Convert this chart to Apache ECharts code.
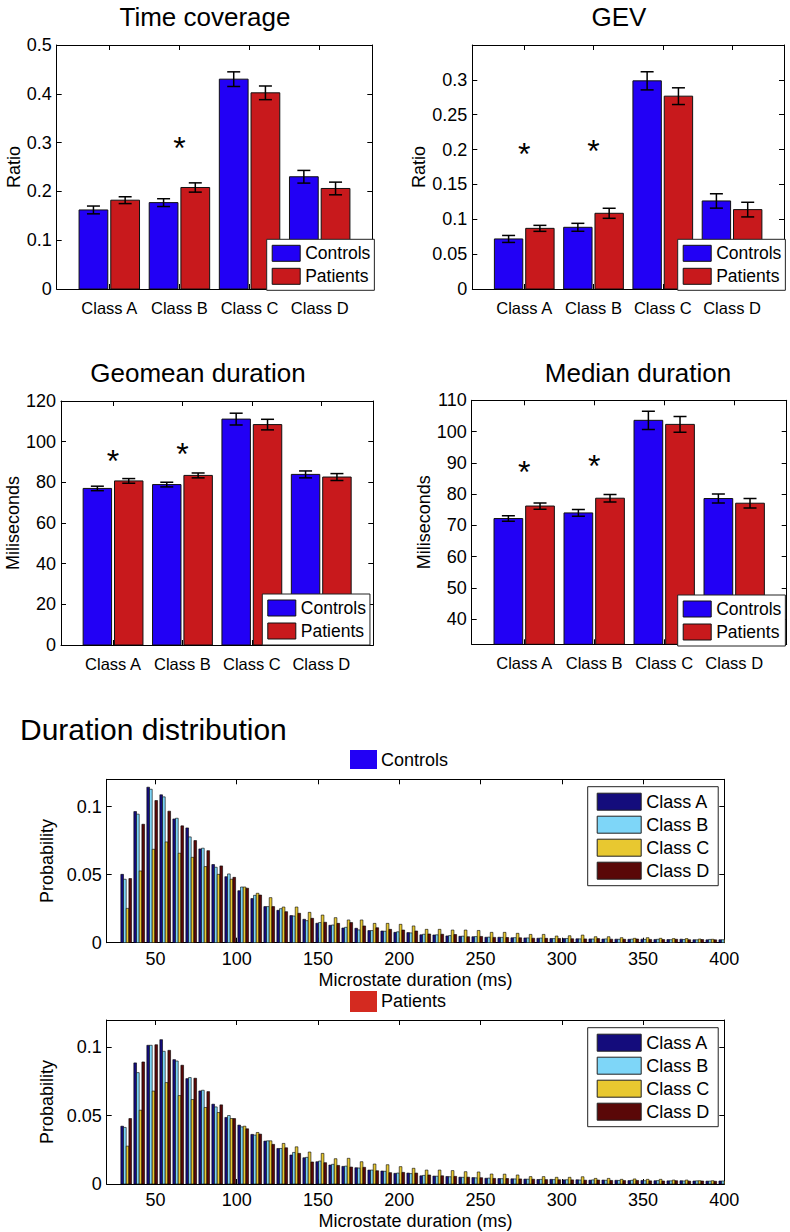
<!DOCTYPE html>
<html><head><meta charset="utf-8">
<script src="https://cdn.jsdelivr.net/npm/echarts@6/dist/echarts.min.js"></script>
<style>html,body{margin:0;padding:0;background:#fff}#c{width:790px;height:1232px}</style>
</head><body><div id="c"></div>
<script>
// ---------------- DATA ----------------
const classes = ['Class A', 'Class B', 'Class C', 'Class D'];
const groups = ['Controls', 'Patients'];
const classTickPos = [1, 2, 3, 4];

// Time coverage
const tcControls = [0.162, 0.177, 0.430, 0.230];
const tcControlsErr = [0.008, 0.008, 0.015, 0.013];
const tcPatients = [0.182, 0.208, 0.402, 0.206];
const tcPatientsErr = [0.007, 0.0095, 0.014, 0.013];
const tcStars = [[2, 0.297]];
const tcTicks = [0, 0.1, 0.2, 0.3, 0.4, 0.5];

// GEV
const gevControls = [0.0718, 0.0885, 0.2986, 0.1263];
const gevControlsErr = [0.005, 0.0057, 0.013, 0.0103];
const gevPatients = [0.087, 0.1086, 0.2766, 0.1139];
const gevPatientsErr = [0.0043, 0.0072, 0.012, 0.0105];
const gevStars = [[1, 0.1995], [2, 0.204]];
const gevTicks = [0, 0.05, 0.1, 0.15, 0.2, 0.25, 0.3];

// Geomean duration
const geoControls = [77.0, 78.9, 111.1, 83.9];
const geoControlsErr = [1.1, 1.15, 2.9, 1.7];
const geoPatients = [80.7, 83.4, 108.4, 82.6];
const geoPatientsErr = [1.15, 1.2, 2.6, 1.7];
const geoStars = [[1, 92.6], [2, 95.9]];
const geoTicks = [0, 20, 40, 60, 80, 100, 120];

// Median duration
const medControls = [72.2, 74.0, 103.6, 78.6];
const medControlsErr = [0.9, 1.07, 2.9, 1.45];
const medPatients = [76.2, 78.7, 102.3, 77.1];
const medPatientsErr = [1.0, 1.2, 2.5, 1.5];
const medStars = [[1, 88.2], [2, 90.3]];
const medTicks = [40, 50, 60, 70, 80, 90, 100, 110];

// Duration distribution
const durationBins = [32, 40, 48, 56, 64, 72, 80, 88, 96, 104, 112, 120, 128, 136, 144, 152, 160, 168, 176, 184, 192, 200, 208, 216, 224, 232, 240, 248, 256, 264, 272, 280, 288, 296, 304, 312, 320, 328, 336, 344, 352, 360, 368, 376, 384, 392, 400];
const durTicks = [50, 100, 150, 200, 250, 300, 350, 400];
const probTicks = [0, 0.05, 0.1];

const ctrlA = [0.0502, 0.0963, 0.1142, 0.1086, 0.0909, 0.0843, 0.0689, 0.0574, 0.0485, 0.0382, 0.0324, 0.0265, 0.0238, 0.0199, 0.0172, 0.0143, 0.0128, 0.0108, 0.0106, 0.0089, 0.0086, 0.0076, 0.0074, 0.0058, 0.0057, 0.0050, 0.0047, 0.0044, 0.0040, 0.0040, 0.0036, 0.0035, 0.0033, 0.0031, 0.0030, 0.0029, 0.0028, 0.0027, 0.0026, 0.0025, 0.0026, 0.0024, 0.0023, 0.0026, 0.0022, 0.0021, 0.0022];
const ctrlB = [0.0466, 0.0944, 0.1127, 0.1071, 0.0914, 0.0777, 0.0694, 0.0554, 0.0505, 0.0409, 0.0348, 0.0265, 0.0250, 0.0196, 0.0162, 0.0148, 0.0130, 0.0113, 0.0094, 0.0089, 0.0084, 0.0080, 0.0072, 0.0062, 0.0058, 0.0052, 0.0048, 0.0045, 0.0041, 0.0039, 0.0037, 0.0035, 0.0034, 0.0030, 0.0031, 0.0028, 0.0027, 0.0028, 0.0025, 0.0026, 0.0024, 0.0025, 0.0022, 0.0023, 0.0021, 0.0024, 0.0022];
const ctrlC = [0.0252, 0.0527, 0.0686, 0.0740, 0.0657, 0.0627, 0.0559, 0.0502, 0.0466, 0.0409, 0.0363, 0.0331, 0.0262, 0.0262, 0.0223, 0.0203, 0.0184, 0.0167, 0.0167, 0.0142, 0.0142, 0.0135, 0.0123, 0.0098, 0.0098, 0.0093, 0.0093, 0.0090, 0.0076, 0.0076, 0.0069, 0.0061, 0.0061, 0.0049, 0.0051, 0.0056, 0.0044, 0.0044, 0.0037, 0.0032, 0.0037, 0.0032, 0.0030, 0.0030, 0.0027, 0.0025, 0.0024];
const ctrlD = [0.0471, 0.0870, 0.1044, 0.0966, 0.0858, 0.0750, 0.0676, 0.0564, 0.0480, 0.0400, 0.0350, 0.0265, 0.0228, 0.0216, 0.0179, 0.0150, 0.0142, 0.0148, 0.0123, 0.0110, 0.0098, 0.0093, 0.0086, 0.0064, 0.0062, 0.0060, 0.0044, 0.0046, 0.0039, 0.0038, 0.0036, 0.0033, 0.0032, 0.0031, 0.0029, 0.0028, 0.0030, 0.0026, 0.0025, 0.0027, 0.0024, 0.0023, 0.0025, 0.0022, 0.0023, 0.0021, 0.0020];

const patA = [0.0423, 0.0886, 0.1015, 0.1056, 0.0910, 0.0771, 0.0681, 0.0584, 0.0487, 0.0431, 0.0363, 0.0314, 0.0260, 0.0212, 0.0192, 0.0163, 0.0139, 0.0129, 0.0119, 0.0102, 0.0095, 0.0078, 0.0080, 0.0060, 0.0058, 0.0055, 0.0050, 0.0047, 0.0042, 0.0040, 0.0038, 0.0036, 0.0033, 0.0034, 0.0030, 0.0031, 0.0028, 0.0029, 0.0027, 0.0025, 0.0026, 0.0024, 0.0023, 0.0024, 0.0022, 0.0021, 0.0022];
const patB = [0.0414, 0.0815, 0.1015, 0.0971, 0.0900, 0.0779, 0.0686, 0.0564, 0.0501, 0.0418, 0.0358, 0.0316, 0.0260, 0.0231, 0.0195, 0.0168, 0.0144, 0.0131, 0.0117, 0.0102, 0.0093, 0.0080, 0.0076, 0.0063, 0.0057, 0.0053, 0.0049, 0.0045, 0.0043, 0.0039, 0.0037, 0.0035, 0.0034, 0.0032, 0.0031, 0.0029, 0.0030, 0.0027, 0.0026, 0.0027, 0.0024, 0.0025, 0.0023, 0.0022, 0.0023, 0.0021, 0.0022];
const patC = [0.0277, 0.0540, 0.0680, 0.0742, 0.0647, 0.0618, 0.0560, 0.0523, 0.0479, 0.0423, 0.0377, 0.0316, 0.0297, 0.0272, 0.0234, 0.0224, 0.0185, 0.0188, 0.0163, 0.0146, 0.0141, 0.0127, 0.0115, 0.0102, 0.0102, 0.0098, 0.0090, 0.0088, 0.0073, 0.0072, 0.0066, 0.0054, 0.0054, 0.0049, 0.0049, 0.0053, 0.0041, 0.0041, 0.0034, 0.0037, 0.0034, 0.0034, 0.0029, 0.0029, 0.0024, 0.0024, 0.0022];
const patD = [0.0479, 0.0893, 0.1019, 0.0978, 0.0869, 0.0774, 0.0676, 0.0579, 0.0479, 0.0404, 0.0365, 0.0290, 0.0265, 0.0224, 0.0161, 0.0156, 0.0136, 0.0124, 0.0122, 0.0097, 0.0083, 0.0085, 0.0080, 0.0066, 0.0060, 0.0056, 0.0050, 0.0046, 0.0041, 0.0040, 0.0037, 0.0035, 0.0032, 0.0031, 0.0030, 0.0028, 0.0029, 0.0026, 0.0025, 0.0026, 0.0023, 0.0022, 0.0024, 0.0021, 0.0022, 0.0020, 0.0019];

// ---------------- STYLE / LAYOUT ----------------
const FONT = "'Liberation Sans', Arial, Helvetica, sans-serif";
const groupColors = ['#2200f5', '#c8191c'];
const histColors = ['#140c7c', '#7ed6f8', '#e8c830', '#5a0808'];
const BAR_W = 0.41, BAR_OFF = 0.226, CAP = 6.5;
const HIST_W = 1.65;
const STAR_FS = 32;

const panels = [
  { title: 'Time coverage', tx: 205, ty: 17, g: [56.7, 45, 315.6, 244], yMin: 0, yMax: 0.5, ticks: tcTicks,
    yName: 'Ratio', nameGap: 33, vals: [tcControls, tcPatients], errs: [tcControlsErr, tcPatientsErr], stars: tcStars, lg: [266.7, 239.3] },
  { title: 'GEV', tx: 619, ty: 17, g: [472.3, 45, 311.7, 244], yMin: 0, yMax: 0.35, ticks: gevTicks,
    yName: 'Ratio', nameGap: 44, vals: [gevControls, gevPatients], errs: [gevControlsErr, gevPatientsErr], stars: gevStars, lg: [677.7, 239.3] },
  { title: 'Geomean duration', tx: 198, ty: 373, g: [61, 401, 312.3, 244], yMin: 0, yMax: 120, ticks: geoTicks,
    yName: 'Miliseconds', nameGap: 39, vals: [geoControls, geoPatients], errs: [geoControlsErr, geoPatientsErr], stars: geoStars, lg: [262.3, 594] },
  { title: 'Median duration', tx: 638, ty: 373, g: [471.7, 400.3, 315, 244], yMin: 32, yMax: 110, ticks: medTicks,
    yName: 'Miliseconds', nameGap: 38, vals: [medControls, medPatients], errs: [medControlsErr, medPatientsErr], stars: medStars, lg: [677.7, 595] }
];

const hists = [
  { g: [106.7, 779.3, 617.6, 163.4], data: [ctrlA, ctrlB, ctrlC, ctrlD], lg: [587.7, 786.7] },
  { g: [106.7, 1020, 617.6, 164], data: [patA, patB, patC, patD], lg: [587.7, 1027.7] }
];

const option = { animation: false, backgroundColor: '#fff', grid: [], xAxis: [], yAxis: [], series: [], legend: [], graphic: [] };

function axisCommon() {
  return {
    axisLine: { show: true, onZero: false, lineStyle: { color: '#000', width: 1 } },
    splitLine: { show: false },
  };
}

panels.forEach((P, i) => {
  const gi = option.grid.length;
  option.grid.push({ left: P.g[0], top: P.g[1], width: P.g[2], height: P.g[3] });
  const xb = option.xAxis.length;
  option.xAxis.push(Object.assign(axisCommon(), {
    type: 'value', gridIndex: gi, min: 0.25, max: 4.75, position: 'bottom',
    axisTick: { show: true, inside: true, length: 5, customValues: classTickPos, lineStyle: { color: '#000' } },
    axisLabel: { customValues: classTickPos, formatter: v => classes[Math.round(v) - 1], fontSize: 16.5, fontFamily: FONT, color: '#000', margin: 10 }
  }));
  option.xAxis.push(Object.assign(axisCommon(), {
    type: 'value', gridIndex: gi, min: 0.25, max: 4.75, position: 'top',
    axisTick: { show: true, inside: true, length: 5, customValues: classTickPos, lineStyle: { color: '#000' } },
    axisLabel: { show: false }
  }));
  const yb = option.yAxis.length;
  option.yAxis.push(Object.assign(axisCommon(), {
    type: 'value', gridIndex: gi, min: P.yMin, max: P.yMax, position: 'left',
    name: P.yName, nameLocation: 'middle', nameGap: P.nameGap, nameRotate: 90,
    nameTextStyle: { fontSize: 18, fontFamily: FONT, color: '#000' },
    axisTick: { show: true, inside: true, length: 5, customValues: P.ticks, lineStyle: { color: '#000' } },
    axisLabel: { customValues: P.ticks, fontSize: 18, fontFamily: FONT, color: '#000', margin: 5 }
  }));
  option.yAxis.push(Object.assign(axisCommon(), {
    type: 'value', gridIndex: gi, min: P.yMin, max: P.yMax, position: 'right',
    axisTick: { show: true, inside: true, length: 5, customValues: P.ticks, lineStyle: { color: '#000' } },
    axisLabel: { show: false }
  }));

  groups.forEach((gname, k) => {
    const off = k === 0 ? -BAR_OFF : BAR_OFF;
    const vals = P.vals[k], errs = P.errs[k];
    const base = Math.max(0, P.yMin);
    option.series.push({
      type: 'custom', name: gname, xAxisIndex: xb, yAxisIndex: yb, clip: true,
      itemStyle: { color: groupColors[k] },
      data: vals.map((v, j) => [classTickPos[j], v, errs[j]]),
      renderItem: (params, api) => {
        const x = api.value(0) + off, v = api.value(1), e = api.value(2);
        const a = api.coord([x - BAR_W / 2, v]);
        const b = api.coord([x + BAR_W / 2, base]);
        const t = api.coord([x, v + e]);
        const u = api.coord([x, v - e]);
        return {
          type: 'group', children: [
            { type: 'rect', shape: { x: a[0], y: a[1], width: b[0] - a[0], height: b[1] - a[1] }, style: { fill: groupColors[k], stroke: '#111', lineWidth: 1 } },
            { type: 'line', shape: { x1: t[0], y1: t[1], x2: u[0], y2: u[1] }, style: { stroke: '#000', lineWidth: 1.5 } },
            { type: 'line', shape: { x1: t[0] - CAP, y1: t[1], x2: t[0] + CAP, y2: t[1] }, style: { stroke: '#000', lineWidth: 1.5 } },
            { type: 'line', shape: { x1: u[0] - CAP, y1: u[1], x2: u[0] + CAP, y2: u[1] }, style: { stroke: '#000', lineWidth: 1.5 } }
          ]
        };
      }
    });
  });
  option.series.push({
    type: 'custom', name: 'significance', xAxisIndex: xb, yAxisIndex: yb, silent: true,
    data: P.stars,
    renderItem: (params, api) => {
      const p = api.coord([api.value(0), api.value(1)]);
      return { type: 'text', x: p[0], y: p[1] + STAR_FS * 0.12, style: { text: '*', fontSize: STAR_FS, fontFamily: FONT, fill: '#000', align: 'center', verticalAlign: 'middle', textAlign: 'center', textVerticalAlign: 'middle' } };
    }
  });
  option.legend.push({
    orient: 'vertical', left: P.lg[0], top: P.lg[1], data: groups, icon: 'rect',
    itemWidth: 28, itemHeight: 16, itemGap: 5, padding: [5, 4, 5, 5],
    borderColor: '#222', borderWidth: 1, backgroundColor: '#fff', selectedMode: false,
    itemStyle: { borderColor: '#111', borderWidth: 1 },
    textStyle: { fontSize: 17.5, fontFamily: FONT, color: '#000' }
  });
  option.graphic.push({ type: 'text', x: P.tx, y: P.ty, style: { text: P.title, fontSize: 26, fontFamily: FONT, fill: '#000', align: 'center', verticalAlign: 'middle', textAlign: 'center', textVerticalAlign: 'middle' } });
});

hists.forEach((H, i) => {
  const gi = option.grid.length;
  option.grid.push({ left: H.g[0], top: H.g[1], width: H.g[2], height: H.g[3] });
  const xb = option.xAxis.length;
  option.xAxis.push(Object.assign(axisCommon(), {
    type: 'value', gridIndex: gi, min: 20, max: 400, position: 'bottom',
    name: 'Microstate duration (ms)', nameLocation: 'middle', nameGap: 28,
    nameTextStyle: { fontSize: 18, fontFamily: FONT, color: '#000' },
    axisTick: { show: true, inside: true, length: 5, customValues: durTicks, lineStyle: { color: '#000' } },
    axisLabel: { customValues: durTicks, fontSize: 18, fontFamily: FONT, color: '#000', margin: 7 }
  }));
  option.xAxis.push(Object.assign(axisCommon(), {
    type: 'value', gridIndex: gi, min: 20, max: 400, position: 'top',
    axisTick: { show: true, inside: true, length: 5, customValues: durTicks, lineStyle: { color: '#000' } },
    axisLabel: { show: false }
  }));
  const yb = option.yAxis.length;
  option.yAxis.push(Object.assign(axisCommon(), {
    type: 'value', gridIndex: gi, min: 0, max: 0.12, position: 'left',
    name: 'Probability', nameLocation: 'middle', nameGap: 49, nameRotate: 90,
    nameTextStyle: { fontSize: 18, fontFamily: FONT, color: '#000' },
    axisTick: { show: true, inside: true, length: 5, customValues: probTicks, lineStyle: { color: '#000' } },
    axisLabel: { customValues: probTicks, fontSize: 18, fontFamily: FONT, color: '#000', margin: 5 }
  }));
  option.yAxis.push(Object.assign(axisCommon(), {
    type: 'value', gridIndex: gi, min: 0, max: 0.12, position: 'right',
    axisTick: { show: true, inside: true, length: 5, customValues: probTicks, lineStyle: { color: '#000' } },
    axisLabel: { show: false }
  }));
  classes.forEach((cname, k) => {
    const off = (k - 1.5) * HIST_W;
    option.series.push({
      type: 'custom', name: cname, xAxisIndex: xb, yAxisIndex: yb, clip: true,
      itemStyle: { color: histColors[k] },
      data: durationBins.map((b, j) => [b, H.data[k][j]]),
      renderItem: (params, api) => {
        const x = api.value(0) + off, v = api.value(1);
        const a = api.coord([x - HIST_W / 2, v]);
        const b = api.coord([x + HIST_W / 2, 0]);
        return { type: 'rect', shape: { x: a[0], y: a[1], width: b[0] - a[0], height: b[1] - a[1] }, style: { fill: histColors[k], stroke: '#000', lineWidth: 0.6 } };
      }
    });
  });
  option.legend.push({
    orient: 'vertical', left: H.lg[0], top: H.lg[1], data: classes, icon: 'rect',
    itemWidth: 44, itemHeight: 17, itemGap: 5, padding: [6, 9, 6, 9],
    borderColor: '#222', borderWidth: 1, backgroundColor: '#fff', selectedMode: false,
    itemStyle: { borderColor: '#222', borderWidth: 1 },
    textStyle: { fontSize: 18, fontFamily: FONT, color: '#000' }
  });
});

option.graphic.push(
  { type: 'text', x: 20, y: 729, style: { text: 'Duration distribution', fontSize: 30, fontFamily: FONT, fill: '#000', align: 'left', verticalAlign: 'middle', textAlign: 'left', textVerticalAlign: 'middle' } },
  { type: 'rect', shape: { x: 350, y: 750, width: 27, height: 19 }, style: { fill: groupColors[0] } },
  { type: 'text', x: 381, y: 760, style: { text: groups[0], fontSize: 18, fontFamily: FONT, fill: '#000', align: 'left', verticalAlign: 'middle', textAlign: 'left', textVerticalAlign: 'middle' } },
  { type: 'rect', shape: { x: 350, y: 991, width: 27, height: 21 }, style: { fill: '#d42a20' } },
  { type: 'text', x: 381, y: 1001, style: { text: groups[1], fontSize: 18, fontFamily: FONT, fill: '#000', align: 'left', verticalAlign: 'middle', textAlign: 'left', textVerticalAlign: 'middle' } }
);

const chart = echarts.init(document.getElementById('c'), null, { renderer: 'svg', width: 790, height: 1232 });
chart.setOption(option);
</script>
</body></html>
